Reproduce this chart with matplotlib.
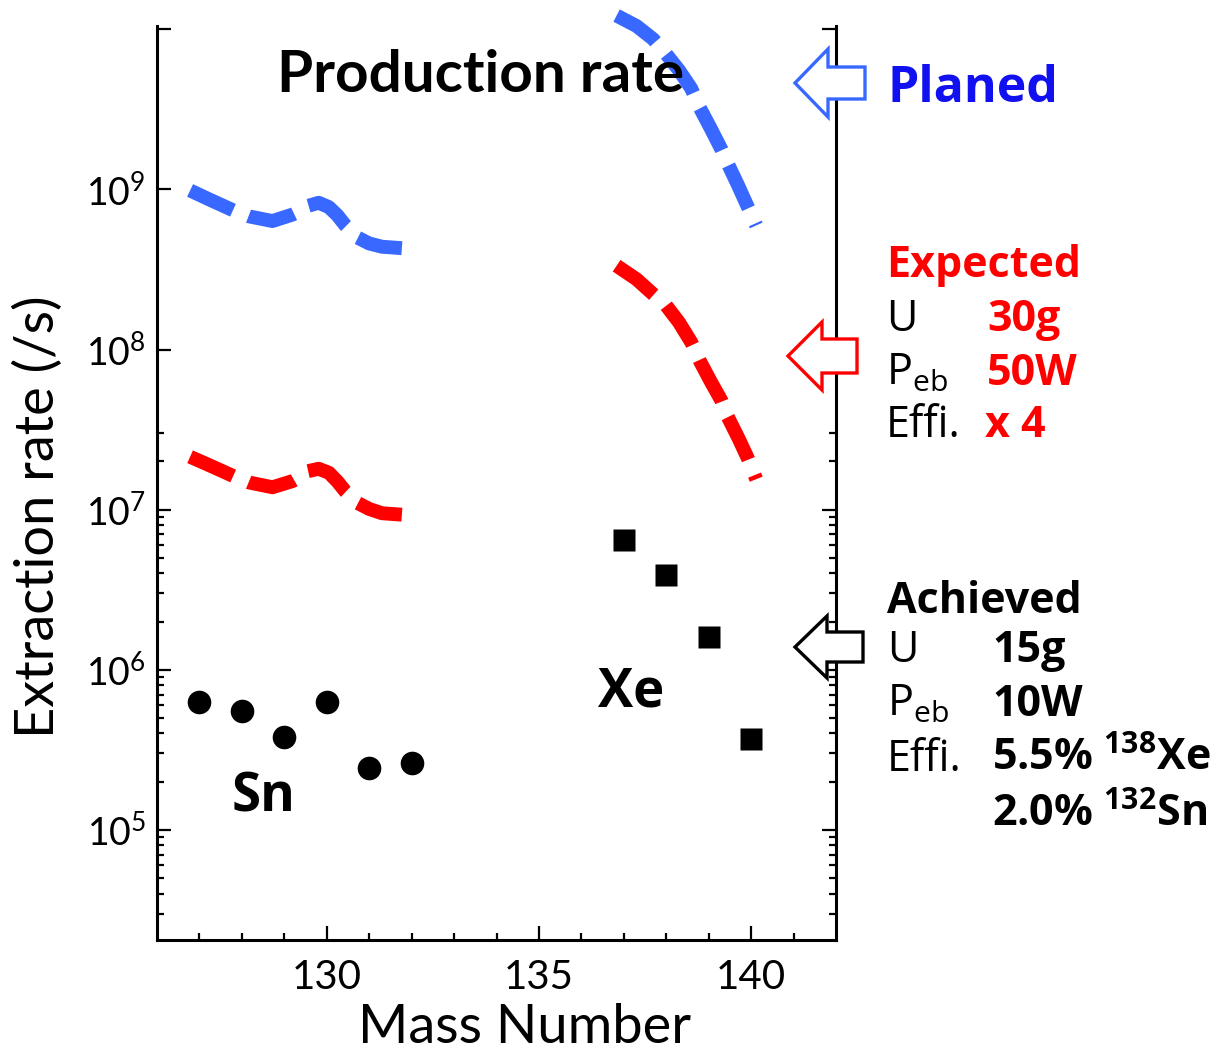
import math
import matplotlib
matplotlib.use("Agg")
import matplotlib.pyplot as plt
from matplotlib.ticker import FixedLocator, FuncFormatter, NullFormatter
from matplotlib.patches import Polygon

# ------------------------------------------------------------------
# Data
# ------------------------------------------------------------------
sn_mass = [127, 128, 129, 130, 131, 132]
sn_rate = [6.3e5, 5.5e5, 3.8e5, 6.3e5, 2.45e5, 2.6e5]

xe_mass = [137, 138, 139, 140]
xe_rate = [6.5e6, 3.9e6, 1.6e6, 3.7e5]

# production-rate curves (Sn region)
sn_curve_mass = [126.78, 127.3, 127.8, 128.16, 128.72, 129.2, 129.4, 129.56,
                 129.81, 130.05, 130.25, 130.44, 130.73, 131.0, 131.3, 131.77]
planned_sn = [9.86e8, 8.5e8, 7.4e8, 6.8e8, 6.35e8, 6.98e8, 7.4e8, 7.9e8,
              8.26e8, 7.76e8, 6.9e8, 5.96e8, 5.0e8, 4.6e8, 4.39e8, 4.3e8]
expected_sn = [2.14e7, 1.86e7, 1.62e7, 1.48e7, 1.38e7, 1.51e7, 1.62e7, 1.74e7,
               1.80e7, 1.70e7, 1.50e7, 1.30e7, 1.10e7, 1.01e7, 9.5e6, 9.3e6]

# production-rate curves (Xe region)
xe_curve_mass = [136.83, 137.3, 137.69, 138.0, 138.3, 138.59, 138.79, 139.05,
                 139.3, 139.45, 139.7, 139.92, 140.12]
planned_xe = [1.22e10, 1.05e10, 8.7e9, 7.0e9, 5.56e9, 4.27e9, 3.24e9, 2.4e9,
              1.78e9, 1.45e9, 1.05e9, 7.8e8, 5.96e8]
expected_xe = [3.34e8, 2.75e8, 2.22e8, 1.88e8, 1.48e8, 1.11e8, 8.5e7, 6.3e7,
               4.8e7, 3.8e7, 2.8e7, 2.1e7, 1.55e7]

y_major = [1e5, 1e6, 1e7, 1e8, 1e9, 1e10]
y_major_right = [1e5, 1e6, 1e7, 1e10]
x_major = [130, 135, 140]

BLUE = "#3868ff"
RED = "#ff0000"
TEXT_BLUE = "#1010f0"
SIDE_FONT = ["Open Sans", "DejaVu Sans"]

W, H = 1221, 1050


def fx(px):
    return px / W


def fy(py):
    return 1 - py / H


plt.rcParams.update({
    "font.family": "Lato",
    "mathtext.default": "regular",
})

fig = plt.figure(figsize=(W / 100, H / 100), dpi=100)
ax = fig.add_axes([fx(157), fy(940), (836 - 157) / W, (940 - 26) / H])

ax.set_yscale("log")
ax.set_xlim(126, 142)
ax.set_ylim(2.05e4, 1.05e10)

# curves
dash = (3.4, 1.2)
ax.plot(sn_curve_mass, planned_sn, color=BLUE, lw=10, dashes=dash, clip_on=False)
ax.plot(xe_curve_mass, planned_xe, color=BLUE, lw=10, dashes=dash, clip_on=False)
ax.plot(sn_curve_mass, expected_sn, color=RED, lw=10, dashes=dash)
ax.plot(xe_curve_mass, expected_xe, color=RED, lw=10, dashes=dash)

# measured points
ax.plot(sn_mass, sn_rate, "o", color="black", ms=17, mec="none")
ax.plot(xe_mass, xe_rate, "s", color="black", ms=15.5, mec="none")

ax.text(127.75, 1.3e5, "Sn", fontsize=38, fontweight="bold", family=SIDE_FONT,
        va="baseline")
ax.text(136.4, 5.9e5, "Xe", fontsize=38, fontweight="bold", family=SIDE_FONT,
        va="baseline")

# axes styling
for s in ["left", "bottom", "right"]:
    ax.spines[s].set_linewidth(2.2)
ax.spines["top"].set_visible(False)

ax.xaxis.set_major_locator(FixedLocator(x_major))
ax.xaxis.set_minor_locator(FixedLocator([m for m in range(127, 142) if m % 5]))
ax.yaxis.set_major_locator(FixedLocator(y_major))
minor_y = [k * 10.0 ** e for e in range(4, 8) for k in range(2, 10)
           if 2.05e4 <= k * 10.0 ** e <= 3.5e7]
ax.yaxis.set_minor_locator(FixedLocator(minor_y))
ax.yaxis.set_minor_formatter(NullFormatter())


def ylab(v, pos):
    if v >= 1e10:
        return ""
    return r"$10^{%d}$" % round(math.log10(v))


ax.yaxis.set_major_formatter(FuncFormatter(ylab))
ax.tick_params(which="both", direction="in", width=1.6, top=False, right=False)
ax.tick_params(which="major", length=10, pad=8)
ax.tick_params(which="minor", length=5)
ax.tick_params(axis="y", which="major", labelsize=27)
ax.tick_params(axis="x", which="major", pad=14, labelsize=29)

# right axis has its own ticks
ax_r = ax.twinx()
ax_r.set_yscale("log")
ax_r.set_ylim(ax.get_ylim())
ax_r.yaxis.set_major_locator(FixedLocator(y_major_right))
ax_r.yaxis.set_minor_locator(FixedLocator([v for v in minor_y if v <= 4.5e7]))
ax_r.yaxis.set_major_formatter(NullFormatter())
ax_r.yaxis.set_minor_formatter(NullFormatter())
ax_r.tick_params(which="both", direction="in", width=1.6)
ax_r.tick_params(which="major", length=10)
ax_r.tick_params(which="minor", length=5)
for sp in ax_r.spines.values():
    sp.set_visible(False)

fig.text(fx(525), fy(1043), "Mass Number", fontsize=39, ha="center",
         va="baseline")
fig.text(fx(38), fy(517), "Extraction rate (/s)", rotation=90, fontsize=39,
         ha="center", va="center")

# title
fig.text(fx(277), fy(92), "Production rate", fontsize=42, fontweight="bold")


# outlined arrows pointing at the axis
def arrow(tip_x, yc, head_x, end_x, head_h, shaft_h, color):
    pts = [(tip_x, yc), (head_x, yc - head_h), (head_x, yc - shaft_h),
           (end_x, yc - shaft_h), (end_x, yc + shaft_h), (head_x, yc + shaft_h),
           (head_x, yc + head_h)]
    pts = [(fx(x), fy(y)) for x, y in pts]
    fig.patches.append(Polygon(pts, closed=True, facecolor="white",
                               edgecolor=color, lw=2.4,
                               transform=fig.transFigure, figure=fig,
                               zorder=5))


arrow(795, 83, 828, 865, 34, 16, BLUE)
arrow(788, 356, 822, 857, 34, 17, RED)
arrow(795, 647, 827, 863, 31, 15, "black")

# side annotations
side = dict(family=SIDE_FONT, fontsize=31)
fig.text(fx(888), fy(102), "Planed", color=TEXT_BLUE, fontweight="bold",
         family=SIDE_FONT, fontsize=36)

fig.text(fx(886), fy(277), "Expected", color=RED, fontweight="bold", **side)
fig.text(fx(886), fy(331), "U", color="black", **side)
fig.text(fx(987), fy(331), "30g", color=RED, fontweight="bold", **side)
fig.text(fx(886), fy(385), "P$_{eb}$", color="black", **side)
fig.text(fx(987), fy(385), "50W", color=RED, fontweight="bold", **side)
fig.text(fx(886), fy(437), "Effi.", color="black", **side)
fig.text(fx(985), fy(437), "x 4", color=RED, fontweight="bold", **side)

fig.text(fx(887), fy(613), "Achieved", color="black", fontweight="bold", **side)
fig.text(fx(887), fy(662), "U", color="black", **side)
fig.text(fx(992), fy(662), "15g", color="black", fontweight="bold", **side)
fig.text(fx(887), fy(716), "P$_{eb}$", color="black", **side)
fig.text(fx(992), fy(716), "10W", color="black", fontweight="bold", **side)
fig.text(fx(887), fy(771), "Effi.", color="black", **side)
fig.text(fx(992), fy(771), "5.5% $^{138}$Xe", color="black", fontweight="bold",
         **side)
fig.text(fx(992), fy(827), "2.0% $^{132}$Sn", color="black", fontweight="bold",
         **side)

fig.savefig("out.png", dpi=100, facecolor="white")
